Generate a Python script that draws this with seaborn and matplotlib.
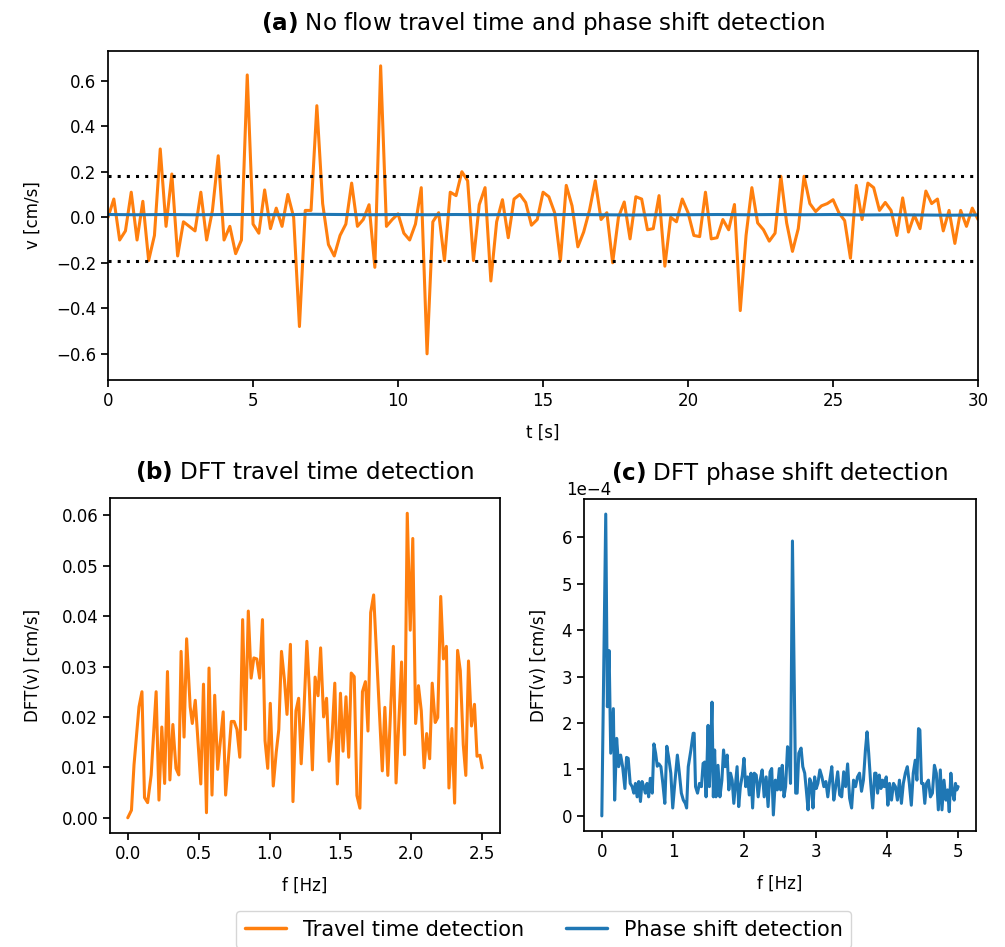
import numpy as np
import pandas as pd
import matplotlib
matplotlib.use("Agg")
import matplotlib.pyplot as plt
import seaborn as sns
from matplotlib.lines import Line2D

# ---------------- data ----------------
# (a) travel-time velocity, sampled every 0.2 s from 0 to 30 s
v_travel = [0.00, 0.08, -0.10, -0.06, 0.11, -0.10, 0.07, -0.19, -0.08, 0.30,
            -0.04, 0.19, -0.17, -0.02, -0.04, -0.06, 0.11, -0.10, 0.03, 0.27,
            -0.10, -0.04, -0.16, -0.10, 0.625, -0.03, -0.07, 0.12, -0.05, 0.04,
            -0.04, 0.10, 0.00, -0.48, 0.03, 0.03, 0.49, 0.06, -0.12, -0.17,
            -0.08, -0.03, 0.15, -0.04, -0.01, 0.055, -0.22, 0.665, -0.04, -0.01,
            0.015, -0.07, -0.10, -0.03, 0.13, -0.60, -0.02, 0.02, -0.19, 0.11,
            0.095, 0.20, 0.16, -0.19, 0.055, 0.13, -0.28, -0.02, 0.077, -0.09,
            0.08, 0.10, 0.065, -0.035, -0.01, 0.11, 0.09, 0.02, -0.19, 0.14,
            0.05, -0.13, -0.065, 0.03, 0.16, -0.01, 0.02, -0.20, 0.00, 0.067,
            -0.095, 0.09, 0.08, -0.055, -0.05, 0.095, -0.215, 0.00, -0.02, 0.08,
            0.02, -0.08, -0.085, 0.11, -0.095, -0.09, -0.01, -0.055, 0.056, -0.41,
            -0.08, 0.13, -0.025, -0.055, -0.105, -0.07, 0.18, -0.025, -0.15, -0.05,
            0.18, 0.06, 0.025, 0.05, 0.06, 0.077, 0.02, -0.015, -0.18, 0.14,
            -0.01, 0.15, 0.13, 0.03, 0.065, 0.03, -0.08, 0.085, -0.065, 0.01,
            -0.05, 0.115, 0.06, 0.08, -0.06, 0.03, -0.115, 0.03, -0.04, 0.04,
            -0.01]
t_travel = np.round(np.arange(len(v_travel)) * 0.2, 1)

# (a) phase-shift velocity, one value per second
v_phase = [0.012, 0.011, 0.012, 0.011, 0.012, 0.012, 0.011, 0.013, 0.012, 0.011,
           0.012, 0.011, 0.012, 0.011, 0.012, 0.011, 0.012, 0.011, 0.010, 0.011,
           0.011, 0.012, 0.011, 0.012, 0.011, 0.012, 0.010, 0.011, 0.010, 0.009,
           0.010]
t_phase = np.arange(len(v_phase), dtype=float)

# detection thresholds
thr_upper = 0.18
thr_lower = -0.19

# (b) DFT of travel-time velocity
f_b = [0.0, 0.026, 0.044, 0.079, 0.10, 0.118, 0.14, 0.165, 0.2, 0.22, 0.24, 0.26,
       0.28, 0.297, 0.318, 0.34, 0.36, 0.376, 0.397, 0.415, 0.44, 0.455, 0.476,
       0.515, 0.534, 0.555, 0.573, 0.594, 0.613, 0.634, 0.673, 0.69, 0.73, 0.75,
       0.77, 0.79, 0.81, 0.83, 0.85, 0.87, 0.889, 0.91, 0.93, 0.95, 0.968, 0.987,
       1.005, 1.026, 1.047, 1.065, 1.084, 1.105, 1.123, 1.147, 1.165, 1.186,
       1.205, 1.223, 1.242, 1.263, 1.281, 1.302, 1.321, 1.342, 1.36, 1.381,
       1.402, 1.42, 1.44, 1.46, 1.478, 1.5, 1.518, 1.539, 1.558, 1.576, 1.597,
       1.616, 1.637, 1.655, 1.676, 1.694, 1.713, 1.734, 1.795, 1.813, 1.834,
       1.873, 1.892, 1.931, 1.952, 1.971, 1.992, 2.01, 2.03, 2.05, 2.07, 2.09,
       2.108, 2.129, 2.147, 2.168, 2.186, 2.207, 2.226, 2.247, 2.265, 2.286,
       2.305, 2.326, 2.345, 2.366, 2.384, 2.403, 2.424, 2.445, 2.463, 2.484, 2.5]
dft_b = [0.0, 0.0015, 0.0105, 0.022, 0.025, 0.004, 0.003, 0.0085, 0.025, 0.0035,
         0.018, 0.0068, 0.029, 0.0075, 0.0185, 0.0098, 0.0085, 0.033, 0.016,
         0.0355, 0.022, 0.0187, 0.0233, 0.0067, 0.0265, 0.001, 0.0297, 0.0045,
         0.0243, 0.0096, 0.021, 0.0045, 0.0191, 0.0191, 0.0175, 0.012, 0.0393,
         0.0175, 0.041, 0.0277, 0.0317, 0.0315, 0.0277, 0.0393, 0.0153, 0.0098,
         0.0227, 0.0063, 0.013, 0.0175, 0.033, 0.0273, 0.0205, 0.0344, 0.0032,
         0.0212, 0.0237, 0.0107, 0.0209, 0.035, 0.0252, 0.0095, 0.0279, 0.0242,
         0.0337, 0.02, 0.0237, 0.0112, 0.0159, 0.0267, 0.0067, 0.0247, 0.0132,
         0.024, 0.012, 0.0287, 0.028, 0.0044, 0.0019, 0.025, 0.027, 0.0172,
         0.0407, 0.0442, 0.0093, 0.0219, 0.0084, 0.034, 0.0069, 0.0309, 0.0125,
         0.0604, 0.0372, 0.0554, 0.0187, 0.0262, 0.0212, 0.0099, 0.0167, 0.0117,
         0.0267, 0.0189, 0.0199, 0.0439, 0.0315, 0.034, 0.0059, 0.0177, 0.0029,
         0.0332, 0.0292, 0.0145, 0.0084, 0.0311, 0.0182, 0.0225, 0.0122, 0.0124,
         0.0099]

# (c) DFT of phase-shift velocity (in units of 1e-4 cm/s)
f_c = [0.0, 0.055, 0.078, 0.102, 0.125, 0.162, 0.18, 0.208, 0.236, 0.264, 0.292,
       0.324, 0.347, 0.37, 0.398, 0.426, 0.449, 0.472, 0.495, 0.518, 0.542,
       0.565, 0.588, 0.611, 0.634, 0.657, 0.68, 0.708, 0.731, 0.755, 0.778,
       0.801, 0.829, 0.856, 0.884, 0.912, 0.94, 0.968, 0.995, 1.028, 1.06,
       1.088, 1.116, 1.144, 1.171, 1.19, 1.213, 1.25, 1.282, 1.296, 1.315,
       1.343, 1.37, 1.398, 1.421, 1.444, 1.463, 1.491, 1.509, 1.528, 1.546,
       1.565, 1.583, 1.602, 1.63, 1.657, 1.685, 1.708, 1.731, 1.759, 1.782,
       1.806, 1.829, 1.852, 1.875, 1.898, 1.921, 1.944, 1.972, 1.995, 2.019,
       2.046, 2.069, 2.093, 2.116, 2.139, 2.167, 2.194, 2.222, 2.25, 2.278,
       2.306, 2.333, 2.361, 2.384, 2.407, 2.435, 2.463, 2.491, 2.509, 2.532,
       2.556, 2.579, 2.606, 2.625, 2.648, 2.675, 2.72, 2.741, 2.764, 2.796,
       2.82, 2.847, 2.871, 2.894, 2.917, 2.94, 2.963, 2.986, 3.009, 3.032,
       3.06, 3.088, 3.116, 3.144, 3.171, 3.199, 3.227, 3.255, 3.282, 3.31,
       3.338, 3.366, 3.394, 3.421, 3.449, 3.477, 3.505, 3.532, 3.56, 3.588,
       3.616, 3.644, 3.671, 3.699, 3.722, 3.745, 3.773, 3.801, 3.829, 3.847,
       3.87, 3.893, 3.917, 3.94, 3.963, 3.991, 4.014, 4.037, 4.065, 4.093,
       4.12, 4.148, 4.176, 4.204, 4.231, 4.259, 4.287, 4.315, 4.343, 4.37,
       4.398, 4.421, 4.444, 4.463, 4.486, 4.509, 4.532, 4.556, 4.583, 4.611,
       4.639, 4.667, 4.694, 4.722, 4.75, 4.773, 4.801, 4.829, 4.852, 4.875,
       4.898, 4.921, 4.944, 4.963, 4.981, 5.0]
dft_c = [0.0, 6.5, 2.35, 3.56, 1.35, 2.31, 0.34, 1.67, 1.06, 1.31, 1.06,
         0.59, 1.26, 1.24, 0.70, 0.63, 0.49, 0.70, 0.41, 0.74, 0.31,
         0.74, 0.63, 0.49, 0.70, 0.41, 0.81, 0.49, 1.55, 1.35, 1.07,
         1.12, 1.06, 0.70, 0.27, 1.50, 1.24, 0.92, 0.17, 0.77, 1.31,
         0.92, 0.49, 0.34, 0.27, 0.17, 1.06, 1.42, 1.78, 1.78, 0.63,
         0.49, 0.70, 0.63, 1.13, 1.16, 0.41, 1.95, 0.63, 1.42, 2.45,
         0.41, 1.42, 0.41, 1.09, 0.41, 0.77, 1.42, 1.06, 1.31, 0.56,
         0.92, 0.77, 0.27, 0.67, 1.06, 0.20, 0.63, 0.88, 1.24, 0.63,
         0.84, 0.45, 0.92, 0.17, 0.92, 0.88, 0.41, 0.77, 0.99, 0.41,
         0.84, 0.20, 0.95, 1.02, 0.02, 0.77, 0.56, 1.02, 0.56, 1.09,
         0.41, 0.63, 1.49, 1.42, 0.70, 5.92, 0.49, 0.49, 1.35, 1.46,
         1.06, 0.92, 0.53, 0.13, 0.80, 0.70, 0.17, 0.84, 0.59, 0.70,
         0.99, 0.84, 0.63, 0.74, 0.41, 0.77, 1.06, 0.34, 0.63, 0.95,
         0.45, 0.41, 0.95, 0.63, 1.12, 0.38, 0.17, 0.77, 0.63, 0.84,
         0.92, 0.53, 0.77, 1.42, 1.81, 1.35, 0.70, 0.17, 0.92, 0.92,
         0.49, 0.88, 0.59, 0.77, 0.63, 0.84, 0.23, 0.70, 0.34, 0.70,
         0.63, 0.34, 0.77, 0.27, 0.70, 0.92, 1.06, 0.70, 0.23, 0.92,
         1.20, 0.77, 1.88, 1.85, 0.70, 0.70, 0.27, 0.70, 0.77, 0.41,
         0.49, 1.09, 0.92, 0.13, 0.99, 0.13, 0.77, 0.34, 0.56, 0.09,
         0.92, 0.49, 0.34, 0.70, 0.56, 0.63]
dft_c_scale = 1e-4

legend_labels = ["Travel time detection", "Phase shift detection"]
titles = [("(a)", "No flow travel time and phase shift detection"),
          ("(b)", "DFT travel time detection"),
          ("(c)", "DFT phase shift detection")]

# ---------------- style ----------------
sns.set_style("ticks")
plt.rcParams["font.family"] = ["DejaVu Sans"]
plt.rcParams["mathtext.fontset"] = "dejavusans"
plt.rcParams.update({
    "axes.edgecolor": "black",
    "axes.linewidth": 1.25,
    "xtick.color": "black",
    "ytick.color": "black",
    "xtick.major.width": 1.25,
    "ytick.major.width": 1.25,
    "xtick.major.size": 5,
    "ytick.major.size": 5,
    "xtick.labelsize": 12,
    "ytick.labelsize": 12,
    "axes.labelsize": 12,
    "text.color": "black",
    "axes.labelcolor": "black",
})

ORANGE = "#ff7f0e"
BLUE = "#1f77b4"
LW = 2.2
LABELPAD = 10

fig = plt.figure(figsize=(10.05, 9.47), dpi=100)
ax_a = fig.add_axes([0.1075, 0.5987, 0.8657, 0.3474])
ax_b = fig.add_axes([0.1095, 0.1204, 0.388, 0.3537])
ax_c = fig.add_axes([0.5811, 0.1225, 0.390, 0.3506])

for ax in (ax_a, ax_b, ax_c):
    for s in ax.spines.values():
        s.set_visible(True)
        s.set_color("black")
        s.set_linewidth(1.25)

def set_title(ax, tag, text, pad):
    ax.set_title(r"$\bf{" + tag + r"}$ " + text, fontsize=16.6, pad=pad, y=1.0)

# (a)
sns.lineplot(x=t_travel, y=v_travel, ax=ax_a, color=ORANGE, linewidth=LW,
             estimator=None, sort=False)
sns.lineplot(x=t_phase, y=v_phase, ax=ax_a, color=BLUE, linewidth=LW,
             estimator=None, sort=False)
ax_a.axhline(thr_upper, color="black", linewidth=2.2, linestyle=(0, (1, 2)))
ax_a.axhline(thr_lower, color="black", linewidth=2.2, linestyle=(0, (1, 2)))
ax_a.set_xlim(0, 30)
ax_a.set_ylim(-0.715, 0.73)
ax_a.set_yticks([-0.6, -0.4, -0.2, 0.0, 0.2, 0.4, 0.6])
ax_a.set_yticklabels(["\u22120.6", "\u22120.4", "\u22120.2", "0.0", "0.2", "0.4", "0.6"])
ax_a.set_xlabel("t [s]", labelpad=LABELPAD)
ax_a.set_ylabel("v [cm/s]", labelpad=LABELPAD)
set_title(ax_a, *titles[0], pad=15)

# (b)
sns.lineplot(x=f_b, y=dft_b, ax=ax_b, color=ORANGE, linewidth=LW,
             estimator=None, sort=False)
ax_b.set_xticks([0.0, 0.5, 1.0, 1.5, 2.0, 2.5])
ax_b.set_yticks([0.0, 0.01, 0.02, 0.03, 0.04, 0.05, 0.06])
ax_b.set_yticklabels(["0.00", "0.01", "0.02", "0.03", "0.04", "0.05", "0.06"])
ax_b.set_xlabel("f [Hz]", labelpad=LABELPAD)
ax_b.set_ylabel("DFT(v) [cm/s]", labelpad=LABELPAD + 4)
set_title(ax_b, *titles[1], pad=13.5)

# (c)
sns.lineplot(x=f_c, y=np.array(dft_c) * dft_c_scale, ax=ax_c, color=BLUE,
             linewidth=LW, estimator=None, sort=False)
ax_c.set_xticks([0, 1, 2, 3, 4, 5])
ax_c.ticklabel_format(style="sci", axis="y", scilimits=(0, 0), useMathText=False)
offset_txt = ax_c.yaxis.get_offset_text()
offset_txt.set_fontsize(12)
offset_txt.set_x(-0.045)
ax_c.set_xlabel("f [Hz]", labelpad=LABELPAD)
ax_c.set_ylabel("DFT(v) [cm/s]", labelpad=LABELPAD)
set_title(ax_c, *titles[2], pad=13.5)

# legend
handles = [Line2D([], [], color=ORANGE, linewidth=2.5),
           Line2D([], [], color=BLUE, linewidth=2.5)]
fig.legend(handles, legend_labels, loc="lower center", ncol=2,
           bbox_to_anchor=(0.541, -0.012), fontsize=15, frameon=True,
           columnspacing=2.0, handlelength=2.0, edgecolor="#cccccc",
           fancybox=True)

fig.savefig("out.png", dpi=100)
